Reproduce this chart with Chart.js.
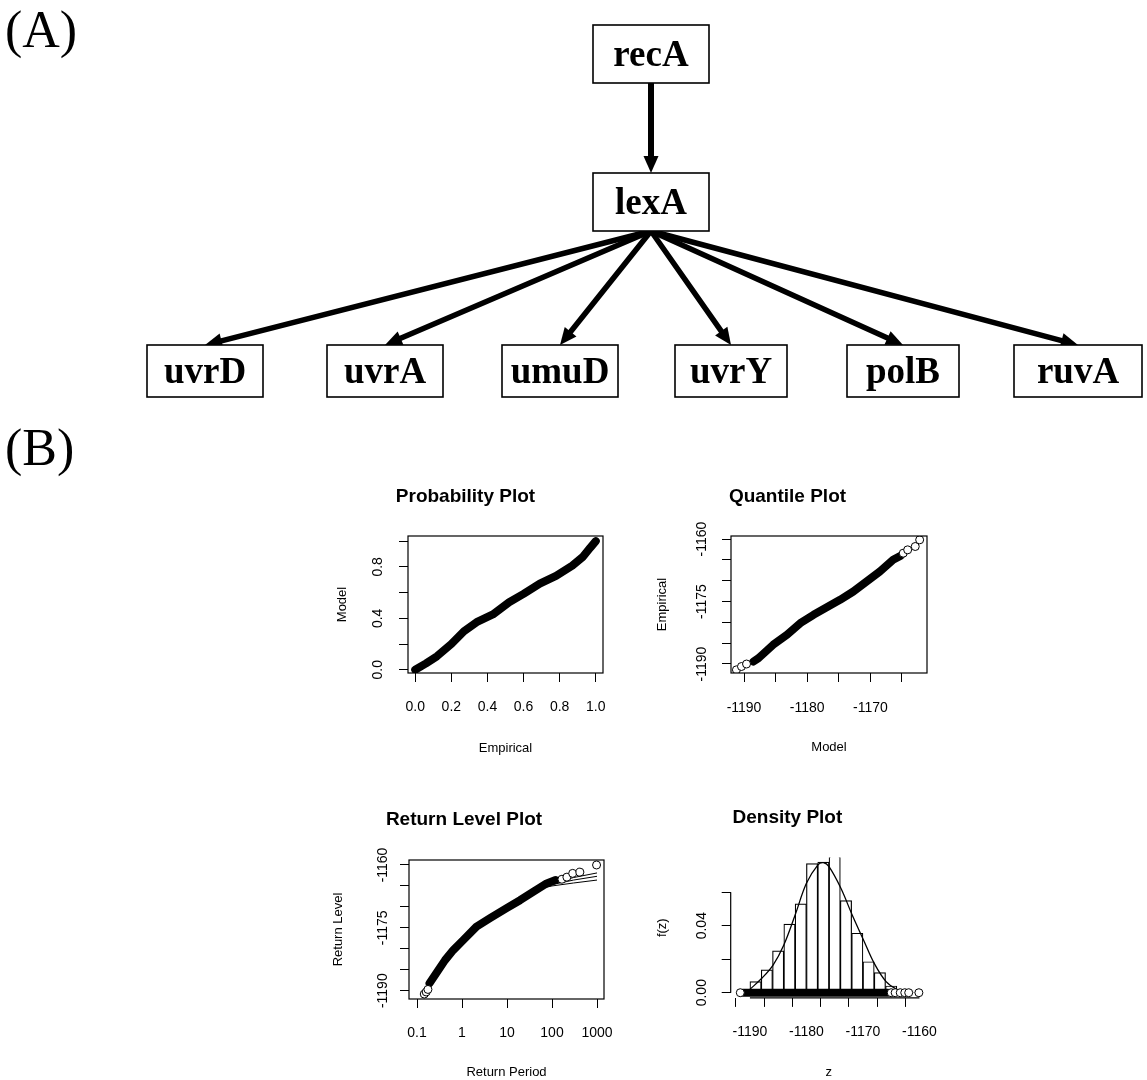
<!DOCTYPE html>
<html>
<head>
<meta charset="utf-8">
<script src="https://cdn.jsdelivr.net/npm/chart.js@4.4.1/dist/chart.umd.min.js"></script>
<style>
  body { margin: 0; background: #fff; }
  #page { position: relative; width: 1147px; height: 1080px; overflow: hidden; background: #fff; }
  .tag { position: absolute; font-family: "Liberation Serif", "Times New Roman", serif; font-size: 52px; line-height: 52px; color: #000; }
  canvas { position: absolute; }
</style>
</head>
<body>
<div id="page">
  <div class="tag" style="left:5px; top:4px">(A)</div>
  <div class="tag" style="left:5px; top:422px">(B)</div>
  <canvas id="net"></canvas>
  <canvas id="prob"></canvas>
  <canvas id="quant"></canvas>
  <canvas id="retlev"></canvas>
  <canvas id="dens"></canvas>
</div>
<script>
// (A) regulatory network
const genes = ['recA', 'lexA', 'uvrD', 'uvrA', 'umuD', 'uvrY', 'polB', 'ruvA'];
const edgeFrom = ['recA', 'lexA', 'lexA', 'lexA', 'lexA', 'lexA', 'lexA'];
const edgeTo = ['lexA', 'uvrD', 'uvrA', 'umuD', 'uvrY', 'polB', 'ruvA'];

// (B) probability plot
const probEmp = [0.00, 0.06, 0.12, 0.20, 0.27, 0.34, 0.43, 0.52, 0.60, 0.69, 0.78, 0.87, 0.93, 0.97, 1.00];
const probMod = [0.00, 0.05, 0.105, 0.20, 0.30, 0.37, 0.43, 0.525, 0.59, 0.67, 0.73, 0.81, 0.88, 0.95, 1.00];
const probTicks = [0, 0.2, 0.4, 0.6, 0.8, 1.0];
const probXLabels = ['0.0', '0.2', '0.4', '0.6', '0.8', '1.0'];
const probYLabels = ['0.0', '', '0.4', '', '0.8', ''];

// quantile plot
const quantMod = [-1188.5, -1187.7, -1185.4, -1183.2, -1181.1, -1179.0, -1176.9, -1174.8, -1172.7, -1170.6, -1168.5, -1166.4, -1165.2];
const quantEmp = [-1189.4, -1188.6, -1185.4, -1183.0, -1180.2, -1178.2, -1176.4, -1174.6, -1172.6, -1170.2, -1167.8, -1165.0, -1164.0];
const quantPtMod = [-1191.2, -1190.4, -1189.6, -1164.8, -1164.1, -1162.9, -1162.2];
const quantPtEmp = [-1191.4, -1190.6, -1190.0, -1163.4, -1162.6, -1161.8, -1160.2];
const zTicks = [-1190, -1185, -1180, -1175, -1170, -1165, -1160];
const quantXLabels = ['-1190', '', '-1180', '', '-1170', ''];
const levelLabels = ['-1190', '', '', '-1175', '', '', '-1160'];

// return level plot
const retPeriod = [0.19, 0.27, 0.42, 0.64, 1.07, 2.1, 4.2, 9.8, 19.5, 38, 76, 120];
const retLevel = [-1188.2, -1185.8, -1182.7, -1180.3, -1177.9, -1174.7, -1172.7, -1170.3, -1168.4, -1166.4, -1164.4, -1163.6];
const retPtPeriod = [0.145, 0.16, 0.175, 166, 214, 288, 417, 977];
const retPtLevel = [-1190.8, -1190.3, -1189.7, -1163.4, -1162.9, -1162.0, -1161.7, -1160.0];
const ciPeriod = [40, 100, 300, 1000];
const ciUpper = [-1165.8, -1164.4, -1163.0, -1161.9];
const ciFit = [-1165.9, -1164.7, -1163.6, -1162.7];
const ciLower = [-1166.0, -1165.0, -1164.3, -1163.6];
const periodTicks = [0.1, 1, 10, 100, 1000];
const periodLabels = ['0.1', '1', '10', '100', '1000'];

// density plot
const binMid = [-1191, -1189, -1187, -1185, -1183, -1181, -1179, -1177, -1175, -1173, -1171, -1169, -1167, -1165, -1163, -1161];
const binDensity = [0.001, 0.0066, 0.0136, 0.025, 0.041, 0.053, 0.077, 0.078, 0.085, 0.055, 0.0355, 0.0185, 0.012, 0.004, 0.002, 0.001];
const curveZ = [-1190.0, -1187.9, -1185.9, -1184.0, -1182.0, -1180.0, -1178.0, -1177.0, -1176.0, -1173.9, -1171.9, -1169.9, -1168.0, -1165.9, -1164.0, -1162.3];
const curveF = [0.002, 0.0086, 0.0165, 0.0285, 0.0464, 0.0653, 0.0762, 0.0776, 0.0752, 0.0623, 0.0464, 0.0315, 0.0175, 0.0066, 0.002, 0.0006];
const rugSpan = [-1191.2, -1165.6];
const rugPoints = [-1191.7, -1165.0, -1164.3, -1163.4, -1162.6, -1161.9, -1160.1];
const densYTicks = [0, 0.02, 0.04, 0.06];
const densYLabels = ['0.00', '', '0.04', ''];
const densXLabels = ['-1190', '', '-1180', '', '-1170', '', '-1160'];

Chart.defaults.font.family = '"Liberation Sans", Arial, sans-serif';
Chart.defaults.color = '#000';

// layout of the diagram boxes (page pixels)
const nodeLayout = {
  recA: { cx: 651, cy: 54, w: 116, h: 58 },
  lexA: { cx: 651, cy: 202, w: 116, h: 58 },
  uvrD: { cx: 205, cy: 371, w: 116, h: 52 },
  uvrA: { cx: 385, cy: 371, w: 116, h: 52 },
  umuD: { cx: 560, cy: 371, w: 116, h: 52 },
  uvrY: { cx: 731, cy: 371, w: 112, h: 52 },
  polB: { cx: 903, cy: 371, w: 112, h: 52 },
  ruvA: { cx: 1078, cy: 371, w: 128, h: 52 }
};

function drawArrow(ctx, x0, y0, x1, y1, lw) {
  const ang = Math.atan2(y1 - y0, x1 - x0);
  const hl = 17, hw = 7.5;
  const bx = x1 - hl * Math.cos(ang), by = y1 - hl * Math.sin(ang);
  ctx.lineWidth = lw;
  ctx.lineCap = 'round';
  ctx.beginPath();
  ctx.moveTo(x0, y0);
  ctx.lineTo(bx, by);
  ctx.stroke();
  ctx.beginPath();
  ctx.moveTo(x1, y1);
  ctx.lineTo(bx + hw * Math.sin(ang), by - hw * Math.cos(ang));
  ctx.lineTo(bx - hw * Math.sin(ang), by + hw * Math.cos(ang));
  ctx.closePath();
  ctx.fill();
}

const netPlugin = {
  id: 'genenet',
  afterDatasetsDraw(chart) {
    const ctx = chart.ctx;
    const sx = v => chart.scales.x.getPixelForValue(v);
    const sy = v => chart.scales.y.getPixelForValue(v);
    ctx.save();
    ctx.fillStyle = '#000';
    ctx.strokeStyle = '#000';
    edgeFrom.forEach((f, i) => {
      const a = nodeLayout[f], b = nodeLayout[edgeTo[i]];
      drawArrow(ctx, sx(a.cx), sy(a.cy + a.h / 2), sx(b.cx), sy(b.cy - b.h / 2), f === 'recA' ? 6 : 5.5);
    });
    genes.forEach(g => {
      const n = nodeLayout[g];
      const x0 = sx(n.cx - n.w / 2), x1 = sx(n.cx + n.w / 2);
      const y0 = sy(n.cy - n.h / 2), y1 = sy(n.cy + n.h / 2);
      ctx.fillStyle = '#fff';
      ctx.fillRect(x0, y0, x1 - x0, y1 - y0);
      ctx.lineWidth = 1.6;
      ctx.strokeRect(x0, y0, x1 - x0, y1 - y0);
      ctx.fillStyle = '#000';
      ctx.font = 'bold 37px "Liberation Serif", serif';
      ctx.textAlign = 'center';
      ctx.textBaseline = 'alphabetic';
      ctx.fillText(g, sx(n.cx), sy(n.cy) + 12);
    });
    ctx.restore();
  }
};

const netCanvas = document.getElementById('net');
netCanvas.width = 1147;
netCanvas.height = 420;
netCanvas.style.left = '0px';
netCanvas.style.top = '0px';
new Chart(netCanvas, {
  type: 'scatter',
  data: { datasets: [{ data: genes.map(g => ({ x: nodeLayout[g].cx, y: nodeLayout[g].cy })), pointRadius: 0 }] },
  options: {
    responsive: false, animation: false, events: [], devicePixelRatio: 1,
    layout: { padding: 0, autoPadding: false },
    plugins: { legend: { display: false }, tooltip: { enabled: false } },
    scales: {
      x: { type: 'linear', min: 0, max: 1147, display: false },
      y: { type: 'linear', min: 0, max: 420, reverse: true, display: false }
    }
  },
  plugins: [netPlugin]
});

// R-like frame: full box, or axis lines from first to last tick
const rFrame = {
  id: 'rFrame',
  afterDraw(chart, args, opts) {
    const { ctx, chartArea: a, scales } = chart;
    ctx.save();
    ctx.strokeStyle = '#000';
    ctx.lineWidth = 1.2;
    if (opts.box) {
      ctx.strokeRect(a.left, a.top, a.right - a.left, a.bottom - a.top);
    } else {
      const xt = scales.x.ticks, yt = scales.y.ticks;
      ctx.beginPath();
      ctx.moveTo(scales.x.getPixelForValue(xt[0].value), a.bottom);
      ctx.lineTo(scales.x.getPixelForValue(xt[xt.length - 1].value), a.bottom);
      ctx.moveTo(a.left, scales.y.getPixelForValue(yt[0].value));
      ctx.lineTo(a.left, scales.y.getPixelForValue(yt[yt.length - 1].value));
      ctx.stroke();
    }
    ctx.restore();
  }
};

const measure = document.createElement('canvas').getContext('2d');

function pts(xs, ys) { return xs.map((v, i) => ({ x: v, y: ys[i] })); }
function band(data, order) {
  return { data, showLine: true, borderColor: '#000', borderWidth: 8, pointRadius: 0,
    borderCapStyle: 'round', borderJoinStyle: 'round', fill: false, order };
}
function circles(data, order) {
  return { data, showLine: false, pointStyle: 'circle', pointRadius: 4, pointBorderWidth: 1,
    backgroundColor: '#fff', borderColor: '#000', order };
}
function thin(data, order) {
  return { data, showLine: true, borderColor: '#000', borderWidth: 1, pointRadius: 0, fill: false, order };
}

function makePanel(id, p) {
  const m = 14, tl = 9;
  const [L, T, R, B] = p.box;
  const cl = Math.round(p.ylabX - m), ct = Math.round(p.titleY - m);
  const cr = Math.round(L + R - cl), cb = Math.round(p.xlabY + m);
  const cv = document.getElementById(id);
  cv.width = cr - cl;
  cv.height = cb - ct;
  cv.style.left = cl + 'px';
  cv.style.top = ct + 'px';
  measure.font = '14px "Liberation Sans"';
  const widest = Math.max(...p.y.labels.map(s => measure.measureText(s).width));
  const titleLH = 19 * 1.2, labLH = 13 * 1.2, tickLH = 14 * 1.2;
  const titleTop = (p.titleY - ct) - titleLH / 2;
  const titleBottom = (T - ct) - titleLH - titleTop;
  const grid = { display: true, drawOnChartArea: false, drawTicks: true, tickLength: tl, color: '#000', lineWidth: 1 };
  return new Chart(cv, {
    type: 'scatter',
    data: { datasets: p.datasets },
    options: {
      responsive: false, animation: false, events: [], devicePixelRatio: 1,
      layout: { padding: { left: 0, top: 0, bottom: 0, right: cr - R }, autoPadding: false },
      plugins: {
        legend: { display: false },
        tooltip: { enabled: false },
        title: { display: true, text: p.title, color: '#000', font: { size: 19, weight: 'bold' },
          padding: { top: titleTop, bottom: titleBottom } },
        rFrame: { box: p.box5 !== false }
      },
      scales: {
        x: {
          type: p.x.type || 'linear', min: p.x.min, max: p.x.max, bounds: 'data', offset: false,
          afterFit: s => { s.height = cb - B; },
          afterBuildTicks: s => { s.ticks = p.x.ticks.map(v => ({ value: v })); },
          ticks: { autoSkip: false, minRotation: 0, maxRotation: 0, font: { size: 14 }, color: '#000',
            padding: p.xTickY - B - tl - tickLH / 2, callback: (v, i) => p.x.labels[i] },
          grid, border: { display: false },
          title: { display: true, text: p.xlab, color: '#000', font: { size: 13 },
            padding: { top: 0, bottom: (cb - p.xlabY) - labLH / 2 } }
        },
        y: {
          type: 'linear', min: p.y.min, max: p.y.max, bounds: 'data',
          afterFit: s => { s.width = L - cl; },
          afterBuildTicks: s => { s.ticks = p.y.ticks.map(v => ({ value: v })); },
          ticks: { autoSkip: false, minRotation: 90, maxRotation: 90, crossAlign: 'center', font: { size: 14 }, color: '#000',
            padding: L - p.yTickX - tl - widest / 2, callback: (v, i) => p.y.labels[i] },
          grid, border: { display: false },
          title: { display: true, text: p.ylab, color: '#000', font: { size: 13 },
            padding: { top: (p.ylabX - cl) - labLH / 2, bottom: 0 } }
        }
      }
    },
    plugins: [rFrame]
  });
}

makePanel('prob', {
  box: [408, 536, 603, 673], titleY: 497, ylabX: 342, xlabY: 748, xTickY: 707, yTickX: 378,
  title: 'Probability Plot', xlab: 'Empirical', ylab: 'Model',
  x: { min: -0.04, max: 1.04, ticks: probTicks, labels: probXLabels },
  y: { min: -0.025, max: 1.04, ticks: probTicks, labels: probYLabels },
  datasets: [band(pts(probEmp, probMod), 1)]
});

makePanel('quant', {
  box: [731, 536, 927, 673], titleY: 497, ylabX: 662, xlabY: 747, xTickY: 708, yTickX: 702,
  title: 'Quantile Plot', xlab: 'Model', ylab: 'Empirical',
  x: { min: -1192.06, max: -1161.04, ticks: zTicks.slice(0, 6), labels: quantXLabels },
  y: { min: -1192.16, max: -1159.28, ticks: zTicks, labels: levelLabels },
  datasets: [band(pts(quantMod, quantEmp), 2), circles(pts(quantPtMod, quantPtEmp), 1)]
});

makePanel('retlev', {
  box: [409, 860, 604, 999], titleY: 820, ylabX: 338, xlabY: 1072, xTickY: 1033, yTickX: 383,
  title: 'Return Level Plot', xlab: 'Return Period', ylab: 'Return Level',
  x: { type: 'logarithmic', min: 0.0664, max: 1430, ticks: periodTicks, labels: periodLabels },
  y: { min: -1191.98, max: -1158.81, ticks: zTicks, labels: levelLabels },
  datasets: [
    thin(pts(ciPeriod, ciUpper), 4), thin(pts(ciPeriod, ciFit), 4), thin(pts(ciPeriod, ciLower), 4),
    band(pts(retPeriod, retLevel), 2), circles(pts(retPtPeriod, retPtLevel), 1)
  ]
});

makePanel('dens', {
  box: [730.7, 857.5, 926.8, 997.9], box5: false, titleY: 818, ylabX: 662, xlabY: 1072, xTickY: 1032, yTickX: 702,
  title: 'Density Plot', xlab: 'z', ylab: 'f(z)',
  x: { min: -1193.4, max: -1158.7, ticks: zTicks, labels: densXLabels },
  y: { min: -0.0031, max: 0.0807, ticks: densYTicks, labels: densYLabels },
  datasets: [
    { type: 'bar', data: pts(binMid, binDensity), backgroundColor: '#fff', borderColor: '#000', borderWidth: 1.2,
      borderSkipped: false, barPercentage: 1, categoryPercentage: 1, order: 5 },
    { data: pts(curveZ, curveF), showLine: true, borderColor: '#000', borderWidth: 1.3, pointRadius: 0, tension: 0.35, fill: false, order: 3 },
    band(rugSpan.map(v => ({ x: v, y: 0 })), 2),
    circles(rugPoints.map(v => ({ x: v, y: 0 })), 1)
  ]
});
</script>
</body>
</html>
